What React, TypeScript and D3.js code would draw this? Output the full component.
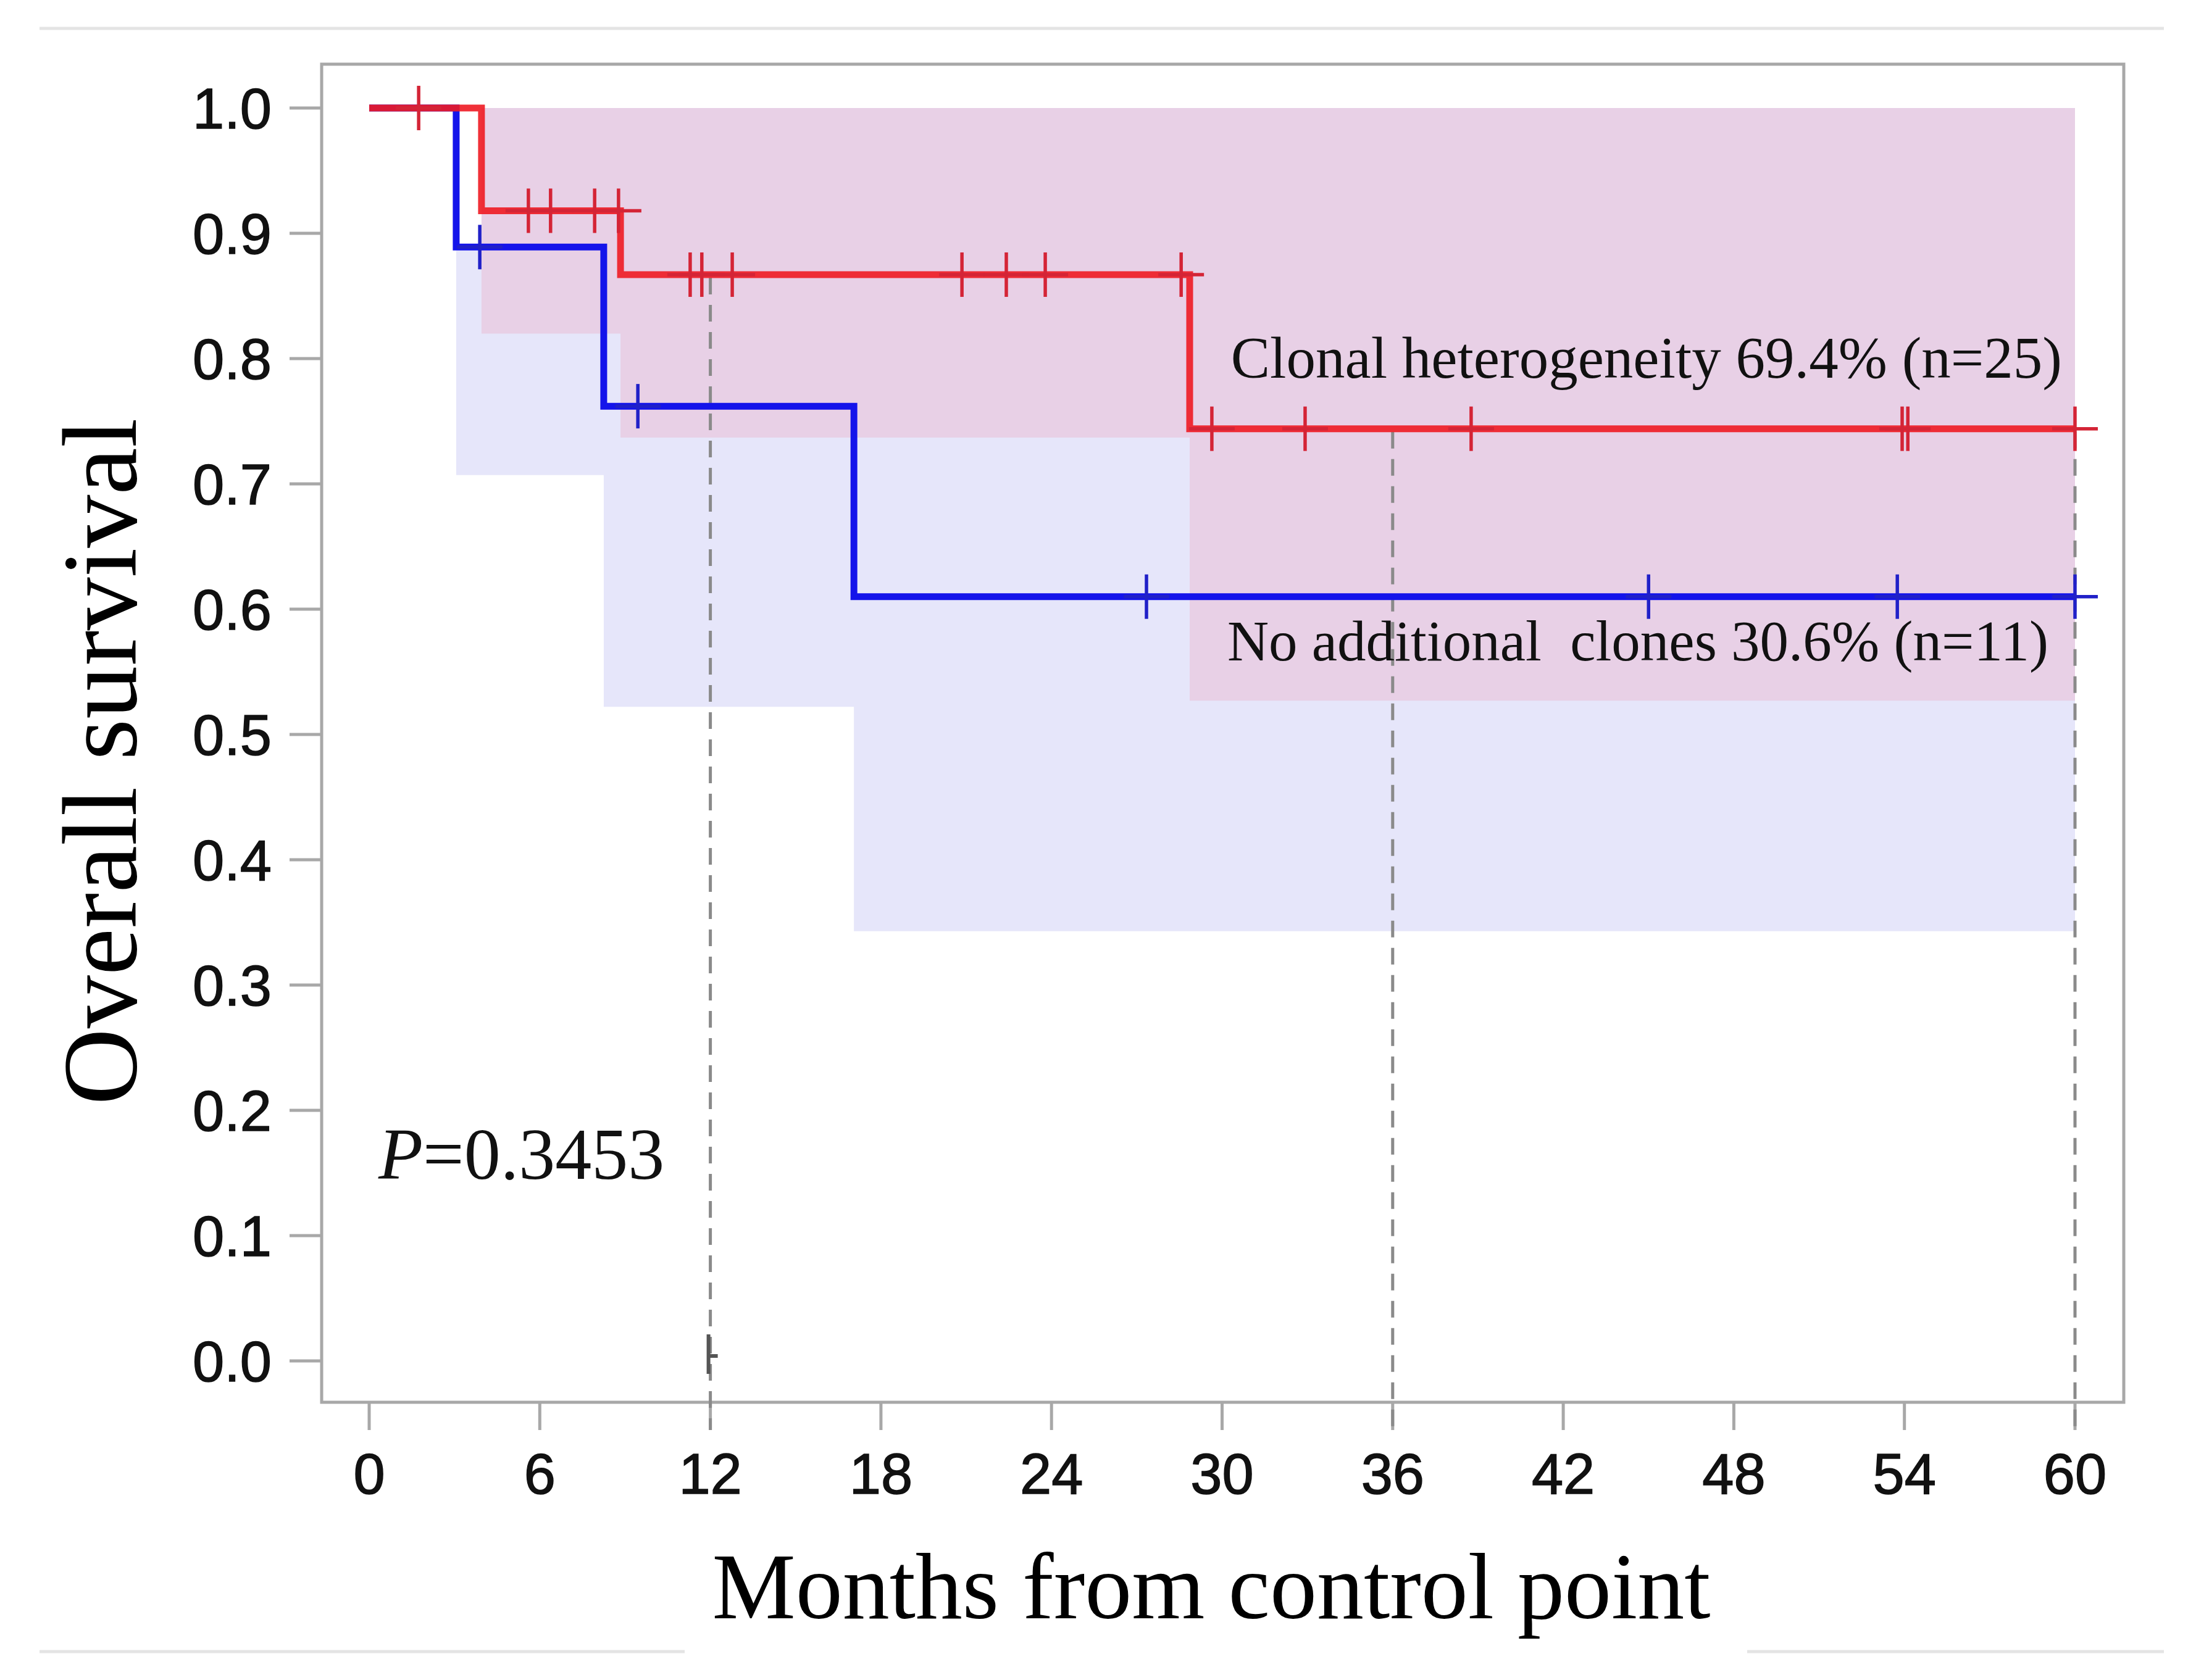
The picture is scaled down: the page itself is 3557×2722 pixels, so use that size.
import React from 'react';
import * as d3 from 'd3';

const xTicks = [0, 6, 12, 18, 24, 30, 36, 42, 48, 54, 60];
const yTicks = [0, 0.1, 0.2, 0.3, 0.4, 0.5, 0.6, 0.7, 0.8, 0.9, 1.0];

const redTimes = [0, 3.95, 8.84, 28.86];
const redSurv = [1.0, 0.918, 0.867, 0.744];
const redCensor = [1.74, 5.6, 6.38, 7.93, 8.77, 11.29, 11.7, 12.77, 20.85, 22.41, 23.78, 28.56, 29.64, 32.92, 38.76, 53.92, 54.12, 60];
const redBandStart = [3.95, 8.84, 28.86];
const redBandLower = [0.82, 0.737, 0.527];
const redBandUpper = [1.0, 1.0, 1.0];

const blueTimes = [0, 3.06, 8.25, 17.05];
const blueSurv = [1.0, 0.889, 0.762, 0.61];
const blueCensor = [3.89, 9.45, 27.34, 45.0, 53.75, 60];
const blueBandStart = [3.06, 8.25, 17.05];
const blueBandLower = [0.707, 0.522, 0.343];
const blueBandUpper = [0.889, 0.95, 0.85];

const endTime = 60;
const landmarks = [12, 36, 60];
const redLabel = 'Clonal heterogeneity 69.4% (n=25)';
const blueLabel = 'No additional  clones 30.6% (n=11)';
const pLabelValue = '=0.3453';

const W = 3557;
const H = 2722;
const RED = '#ee1a22';
const RED_C = '#d42436';
const BLUE = '#1414ea';
const BLUE_C = '#2020c8';
const PINK = '#e8d0e6';
const LAV = '#e6e6fa';
const GRAY = '#a8a8a8';

const x = d3.scaleLinear().domain([0, 60]).range([598, 3361]);
const y = d3.scaleLinear().domain([0, 1]).range([2205, 175]);

type Pt = { t: number; s: number };
type BandPt = { t: number; lo: number; hi: number };

function stepPoints(times: number[], surv: number[]): Pt[] {
  const pts = times.map((t, i) => ({ t, s: surv[i] }));
  pts.push({ t: endTime, s: surv[surv.length - 1] });
  return pts;
}
function bandPoints(start: number[], lo: number[], hi: number[]): BandPt[] {
  const pts = start.map((t, i) => ({ t, lo: lo[i], hi: hi[i] }));
  pts.push({ t: endTime, lo: lo[lo.length - 1], hi: hi[hi.length - 1] });
  return pts;
}
function survAt(times: number[], surv: number[], t: number): number {
  let v = surv[0];
  times.forEach((tt, i) => {
    if (tt <= t) v = surv[i];
  });
  return v;
}

const line = d3
  .line<Pt>()
  .x((d) => x(d.t))
  .y((d) => y(d.s))
  .curve(d3.curveStepAfter);
const area = d3
  .area<BandPt>()
  .x((d) => x(d.t))
  .y0((d) => y(d.lo))
  .y1((d) => y(d.hi))
  .curve(d3.curveStepAfter);

function Censors({ times, stimes, surv, color }: { times: number[]; stimes: number[]; surv: number[]; color: string }) {
  return (
    <g stroke={color} strokeWidth={5.5}>
      {times.map((t, i) => {
        const cx = x(t);
        const cy = y(survAt(stimes, surv, t));
        return (
          <g key={i}>
            <line x1={cx} x2={cx} y1={cy - 36} y2={cy + 36} />
            <line x1={cx - 37} x2={cx + 37} y1={cy} y2={cy} />
          </g>
        );
      })}
    </g>
  );
}

export default function App() {
  const redPts = stepPoints(redTimes, redSurv);
  const bluePts = stepPoints(blueTimes, blueSurv);
  const redBand = bandPoints(redBandStart, redBandLower, redBandUpper);
  const blueBand = bandPoints(blueBandStart, blueBandLower, blueBandUpper);
  const sans = "'Liberation Sans', Arial, sans-serif";
  const serif = "'Liberation Serif', 'Times New Roman', serif";
  return (
    <div style={{ width: W, height: H, background: '#fff' }}>
      <style>{'body{margin:0;}'}</style>
      <svg width={W} height={H} viewBox={`0 0 ${W} ${H}`} style={{ display: 'block' }}>
        <rect x={0} y={0} width={W} height={H} fill="#fff" />
        {/* figure border lines */}
        <line x1={64} x2={3505} y1={46} y2={46} stroke="#e4e4e4" strokeWidth={5} />
        <line x1={64} x2={1109} y1={2676} y2={2676} stroke="#e4e4e4" strokeWidth={5} />
        <line x1={2830} x2={3505} y1={2676} y2={2676} stroke="#e4e4e4" strokeWidth={5} />

        {/* bands */}
        <path d={area(blueBand) || ''} fill={LAV} />
        <path d={area(redBand) || ''} fill={PINK} />

        {/* frame */}
        <rect x={521} y={104} width={3440 - 521} height={2272 - 104} fill="none" stroke={GRAY} strokeWidth={5} />

        {/* y ticks */}
        <g>
          {yTicks.map((v) => (
            <g key={v}>
              <line x1={469} x2={521} y1={y(v)} y2={y(v)} stroke={GRAY} strokeWidth={5} />
              <text x={440} y={y(v) + 33} textAnchor="end" fontFamily={sans} fontSize={92} fill="#111" stroke="#111" strokeWidth={1.5}>
                {v.toFixed(1)}
              </text>
            </g>
          ))}
        </g>
        {/* x ticks */}
        <g>
          {xTicks.map((v) => (
            <g key={v}>
              <line x1={x(v)} x2={x(v)} y1={2272} y2={2317} stroke={GRAY} strokeWidth={5} />
              <text x={x(v)} y={2420} textAnchor="middle" fontFamily={sans} fontSize={92} fill="#111" stroke="#111" strokeWidth={1.5}>
                {v}
              </text>
            </g>
          ))}
        </g>

        {/* landmark dashed lines */}
        <g stroke="#8a8a8a" strokeWidth={5} strokeDasharray="27 17">
          {landmarks.map((t) => (
            <line key={t} x1={x(t)} x2={x(t)} y1={y(survAt(redTimes, redSurv, t)) + 5} y2={2317} />
          ))}
        </g>
        {/* small marker at 12 months, 0 */}
        <g stroke="#555" strokeWidth={6}>
          <line x1={x(12) - 3} x2={x(12) - 3} y1={y(0) - 43} y2={y(0) + 21} />
          <line x1={x(12) - 3} x2={x(12) + 12} y1={y(0) - 8} y2={y(0) - 8} />
        </g>

        {/* curves */}
        <path d={line(bluePts) || ''} fill="none" stroke={BLUE} strokeWidth={11} />
        <Censors times={blueCensor} stimes={blueTimes} surv={blueSurv} color={BLUE_C} />
        <path d={line(redPts) || ''} fill="none" stroke={RED} strokeWidth={11} strokeOpacity={0.9} />
        <Censors times={redCensor} stimes={redTimes} surv={redSurv} color={RED_C} />

        {/* annotations */}
        <text x={3340} y={612} textAnchor="end" fontFamily={serif} fontSize={95} fill="#111">
          {redLabel}
        </text>
        <text x={3318} y={1070} textAnchor="end" fontFamily={serif} fontSize={93} fill="#111" style={{ whiteSpace: 'pre' }}>
          {blueLabel}
        </text>
        <text x={613} y={1910} fontFamily={serif} fontSize={118} fill="#111">
          <tspan fontStyle="italic">P</tspan>
          {pLabelValue}
        </text>

        {/* axis titles */}
        <text
          transform="translate(220,1234) rotate(-90)"
          textAnchor="middle"
          fontFamily={serif}
          fontSize={172}
          fill="#000"
        >
          Overall survival
        </text>
        <text x={1962} y={2622} textAnchor="middle" fontFamily={serif} fontSize={152} fill="#000">
          Months from control point
        </text>
      </svg>
    </div>
  );
}
